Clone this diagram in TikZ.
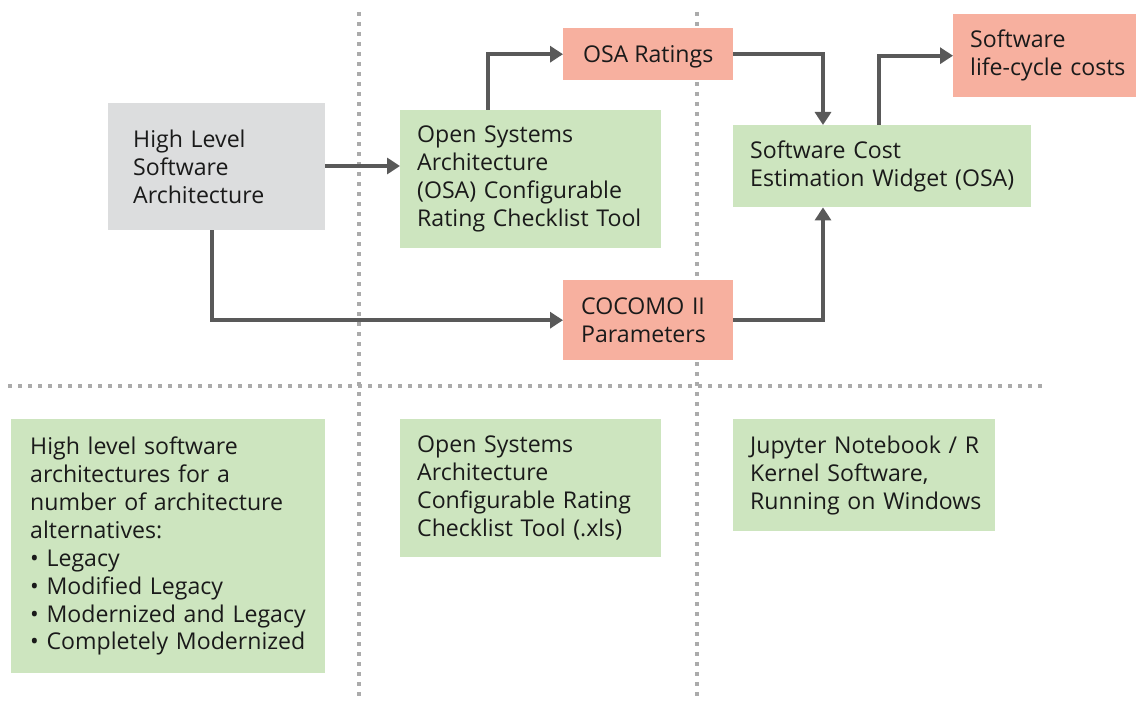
\documentclass[tikz,border=0pt]{standalone}
\usepackage{fontspec}
\setmainfont{Open Sans}
\usetikzlibrary{arrows.meta,calc}
\definecolor{boxgray}{HTML}{DCDDDE}
\definecolor{boxgreen}{HTML}{CDE5BF}
\definecolor{boxsalmon}{HTML}{F7B09F}
\definecolor{arrowgray}{HTML}{595959}
\definecolor{dotgray}{HTML}{ABABAB}
\definecolor{txt}{HTML}{1A1A1A}
\newcommand{\ml}[1]{\mbox{#1}}
\begin{document}
\begin{tikzpicture}[x=1bp,y=-1bp,
  box/.style={anchor=north west, inner ysep=0pt, align=left, text=txt,
    font=\fontsize{23.2}{28}\selectfont},
  conn/.style={draw=arrowgray, line width=4bp, -{Triangle[length=13bp,width=16bp]}},
  sep/.style={draw=dotgray, line width=4bp, dash pattern=on 4bp off 6bp}]
\useasboundingbox (0,0) rectangle (1136,701);
% separators
\draw[sep] (359,12) -- (359,700);
\draw[sep] (697,12) -- (697,700);
\draw[sep] (8,386) -- (1048,386);
% top nodes
\node[box, fill=boxgray, minimum height=127bp, inner xsep=25bp, text width=167bp] (hlsa) at (108,103)
  {\ml{High Level}\\\ml{Software}\\\ml{Architecture}};
\node[box, fill=boxgreen, minimum height=138bp, inner xsep=17bp, text width=227bp] (osatool) at (400,110)
  {\ml{Open Systems}\\\ml{Architecture}\\\ml{(OSA) Configurable}\\\ml{Rating Checklist Tool}};
\node[box, fill=boxsalmon, minimum height=52bp, minimum width=170bp, inner xsep=0bp, align=center, text depth=0bp] (osar) at (563,28)
  {OSA Ratings};
\node[box, fill=boxsalmon, minimum height=80bp, inner xsep=18bp, text width=134bp] (cocomo) at (563,280)
  {\ml{COCOMO II}\\\ml{Parameters}};
\node[box, fill=boxgreen, minimum height=82bp, inner xsep=17bp, text width=264bp] (widget) at (733,125)
  {\ml{Software Cost}\\\ml{Estimation Widget (OSA)}};
\node[box, fill=boxsalmon, minimum height=83bp, inner xsep=17bp, text width=149bp] (life) at (953,14)
  {\ml{Software}\\\ml{life-cycle costs}};
% bottom nodes
\node[box, fill=boxgreen, minimum height=254bp, inner xsep=19bp, text width=276bp] (b1) at (11,419)
  {\ml{High level software}\\\ml{architectures for a}\\\ml{number of architecture}\\\ml{alternatives:}\\\ml{\textbullet{} Legacy}\\\ml{\textbullet{} Modified Legacy}\\\ml{\textbullet{} Modernized and Legacy}\\\ml{\textbullet{} Completely Modernized}};
\node[box, fill=boxgreen, minimum height=138bp, inner xsep=17bp, text width=227bp] (b2) at (400,419)
  {\ml{Open Systems}\\\ml{Architecture}\\\ml{Configurable Rating}\\\ml{Checklist Tool (.xls)}};
\node[box, fill=boxgreen, minimum height=112bp, inner xsep=17bp, text width=228bp] (b3) at (733,419)
  {\ml{Jupyter Notebook / R}\\\ml{Kernel Software,}\\\ml{Running on Windows}};
% connectors
\draw[conn] (hlsa.east |- 0,166) -- (osatool.west |- 0,166);
\draw[conn] (hlsa.south -| 212,0) |- (cocomo.west);
\draw[conn] (osatool.north -| 488,0) |- (osar.west);
\draw[conn] (osar.east) -| (widget.north -| 823,0);
\draw[conn] (cocomo.east) -| (widget.south -| 823,0);
\draw[conn] (widget.north -| 879,0) |- (life.west);
\end{tikzpicture}
\end{document}
